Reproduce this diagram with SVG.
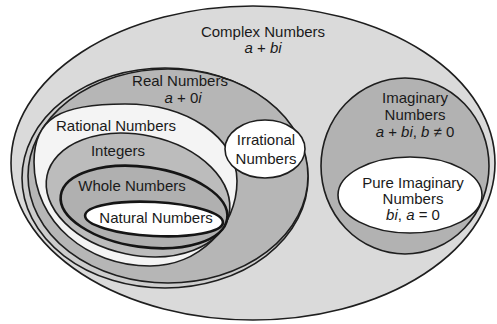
<svg xmlns="http://www.w3.org/2000/svg" width="497" height="324" viewBox="0 0 497 324">
<style>
.set{stroke:#1e1e1e;stroke-width:1.6}
.thick{stroke:#151515;stroke-width:2.6}
text{font-family:"Liberation Sans",Arial,sans-serif;font-size:15px;fill:#1a1a1a;text-anchor:middle}
.i{font-style:italic}
</style>
<rect width="497" height="324" fill="#ffffff"/>
<g id="complex">
<ellipse class="set" cx="253" cy="163" rx="242" ry="157" fill="#dadada"/>
<text x="263" y="37">Complex Numbers</text>
<text x="263" y="53"><tspan class="i">a</tspan> + <tspan class="i">bi</tspan></text>
</g>
<g id="real">
<ellipse class="set" cx="165" cy="178" rx="143" ry="110" fill="#cdcdcd"/>
<ellipse class="set" cx="168" cy="176" rx="140" ry="107" fill="#b6b6b6"/>
<text x="180" y="86">Real Numbers</text>
<text x="183" y="103"><tspan class="i">a</tspan> + 0<tspan class="i">i</tspan></text>
</g>
<g id="rational">
<path class="set" d="M125,104 C187,104 237,137 237,181 C237,228 198,266 150,266 C87,266 34,222 34,162 C34,118 60,104 125,104 Z" fill="#f4f4f4"/>
<text x="116" y="131">Rational Numbers</text>
</g>
<g id="integers">
<ellipse class="set" cx="138" cy="195" rx="93" ry="60" transform="rotate(12 138 195)" fill="#bcbcbc"/>
<text x="118" y="156">Integers</text>
</g>
<g id="whole">
<ellipse class="thick" cx="144" cy="207" rx="84" ry="40" transform="rotate(8 144 207)" fill="#b0b0b0"/>
<text x="132" y="191">Whole Numbers</text>
</g>
<g id="natural">
<ellipse class="thick" cx="154" cy="219" rx="69" ry="17" transform="rotate(3 154 219)" fill="#ffffff"/>
<text x="156" y="223">Natural Numbers</text>
</g>
<g id="irrational">
<ellipse class="set" cx="265" cy="149" rx="40" ry="29" fill="#ffffff"/>
<text x="266" y="145">Irrational</text>
<text x="266" y="164">Numbers</text>
</g>
<g id="imaginary">
<ellipse class="set" cx="405" cy="166" rx="84" ry="88" fill="#b2b2b2"/>
<text x="415" y="103">Imaginary</text>
<text x="415" y="120">Numbers</text>
<text x="415" y="137"><tspan class="i">a</tspan> + <tspan class="i">bi</tspan>, <tspan class="i">b</tspan> ≠ 0</text>
</g>
<g id="pure-imaginary">
<ellipse class="set" cx="410" cy="195" rx="72" ry="38" fill="#ffffff"/>
<text x="413" y="188">Pure Imaginary</text>
<text x="413" y="204">Numbers</text>
<text x="413" y="220"><tspan class="i">bi</tspan>, <tspan class="i">a</tspan> = 0</text>
</g>
<g id="connectors"/>
</svg>
